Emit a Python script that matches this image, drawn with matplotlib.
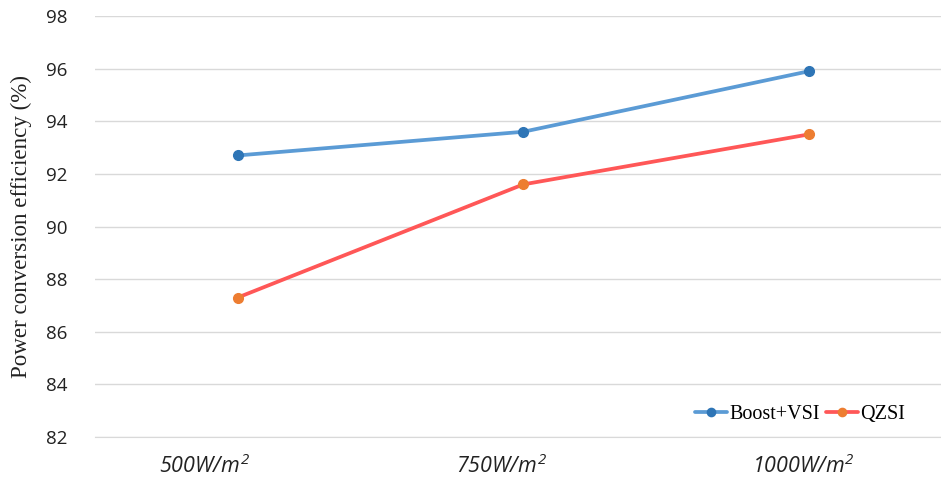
import matplotlib
matplotlib.use("Agg")
import matplotlib.pyplot as plt
from matplotlib.transforms import ScaledTranslation

categories = [r"$\mathit{500W/m^2}$", r"$\mathit{750W/m^2}$", r"$\mathit{1000W/m^2}$"]
boost_vsi = [92.7, 93.6, 95.9]
qzsi = [87.3, 91.6, 93.5]
yticks = [82, 84, 86, 88, 90, 92, 94, 96, 98]

plt.rcParams["mathtext.fontset"] = "custom"
plt.rcParams["mathtext.it"] = "Open Sans:italic"
plt.rcParams["mathtext.rm"] = "Open Sans:italic"

W, H = 941, 478
fig = plt.figure(figsize=(W / 100, H / 100), dpi=100)
ax = fig.add_axes([95 / W, (H - 437) / H, 856.5 / W, 421 / H])

x = list(range(len(categories)))
ax.plot(x, boost_vsi, color="#5B9BD5", lw=2.7, marker="o", ms=7,
        mfc="#2E75B6", mec="#2E75B6", label="Boost+VSI", solid_capstyle="round")
ax.plot(x, qzsi, color="#FF5757", lw=2.7, marker="o", ms=7,
        mfc="#ED7D31", mec="#ED7D31", label="QZSI", solid_capstyle="round")

ax.set_xlim(-0.5, 2.5)
ax.set_ylim(82, 98)
ax.set_yticks(yticks)
ax.set_yticklabels([str(v) for v in yticks], fontfamily="Open Sans", fontsize=13.5)
ax.set_xticks(x)
ax.set_xticklabels(categories, fontsize=15.5)
ax.tick_params(axis="both", length=0, colors="#222222")
ax.tick_params(axis="y", pad=20)
ax.tick_params(axis="x", pad=12)

# category labels sit slightly left of their points
shifts = [-33, -22, -5]
for lbl, dx in zip(ax.get_xticklabels(), shifts):
    lbl.set_transform(lbl.get_transform() + ScaledTranslation(dx / 100, 0, fig.dpi_scale_trans))

ax.grid(axis="y", color="#D9D9D9", lw=1)
ax.set_axisbelow(True)
for s in ["top", "right", "left"]:
    ax.spines[s].set_visible(False)
ax.spines["bottom"].set_color("#D9D9D9")

ax.set_ylabel("Power conversion efficiency (%)", fontfamily="Liberation Serif",
              fontsize=16.6, color="#222222", labelpad=10)

leg = ax.legend(loc="lower left", bbox_to_anchor=(695 / W, (H - 424) / H),
                bbox_transform=fig.transFigure, ncol=2, frameon=False,
                prop={"family": "Liberation Serif", "size": 14.5},
                handlelength=1.6, handletextpad=0.1, columnspacing=0.3,
                borderaxespad=0, borderpad=0, markerscale=0.85)

fig.savefig("out.png", dpi=100)
